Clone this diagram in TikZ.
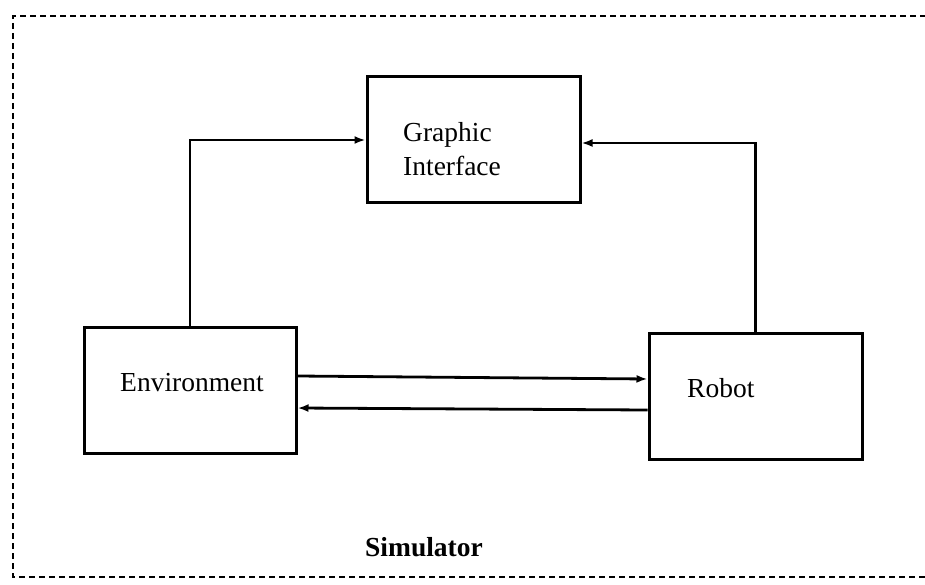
\documentclass[tikz,border=0pt]{standalone}
\usepackage{fontspec}
\setmainfont{Liberation Serif}
\usetikzlibrary{arrows.meta,calc}
\begin{document}
\begin{tikzpicture}[x=1pt,y=-1pt,
  box/.style={draw,line width=3pt,inner sep=0pt,minimum width=#1},
  lbl/.style={anchor=base west,inner sep=0pt,font=\fontsize{27.5}{30}\selectfont},
  arr/.style={line width=2.8pt,-{Latex[length=11pt,width=8pt]}},
  frame/.style={line width=2.8pt,dash pattern=on 6pt off 4pt}]
\useasboundingbox (0,0) rectangle (925,585);
\draw[frame] (926,16) -- (13,16) -- (13,577) -- (926,577);
\node[box=213pt,minimum height=126pt] (gi) at (473.5,140) {};
\node[box=212pt,minimum height=126pt] (env) at (190,390) {};
\node[box=213pt,minimum height=126pt] (robot) at (755.5,396) {};
\node[lbl] (gitext1) at (403,142) {Graphic};
\node[lbl] (gitext2) at (403,176) {Interface};
\node[lbl] (envtext) at (120,391) {Environment};
\node[lbl] (robottext) at (687,397) {Robot};
\node[lbl,font=\bfseries\fontsize{27.5}{30}\selectfont] (sim) at (365,556) {Simulator};
\draw[arr] (env.north) |- (gi.west);
\draw[arr] (robot.north) |- ([yshift=-3pt]gi.east);
\draw[arr] ([yshift=14pt]env.east) -- ([yshift=17pt]robot.west);
\draw[arr] ([yshift=-14pt]robot.west) -- ([yshift=-18pt]env.east);
\end{tikzpicture}
\end{document}
